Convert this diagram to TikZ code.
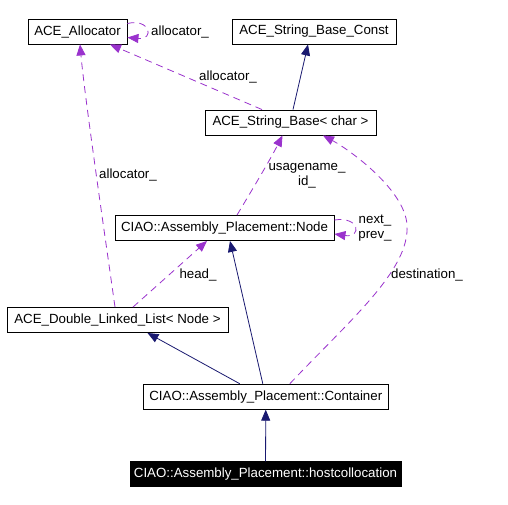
\documentclass[tikz,border=0pt]{standalone}
\usepackage{fontspec}
\setmainfont{Liberation Sans}
\usetikzlibrary{arrows.meta}
\definecolor{navyedge}{RGB}{25,25,112}
\definecolor{orchidedge}{RGB}{154,50,205}
\begin{document}
\begin{tikzpicture}[x=1pt,y=-1pt,font=\fontsize{13.3}{15}\selectfont,
cls/.style={draw=black,line width=0.9pt,minimum height=25pt,inner sep=0pt},
inh/.style={navyedge,line width=0.8pt,-{Triangle[length=11pt,width=9pt]}},
usage/.style={orchidedge,line width=0.8pt,dash pattern=on 7pt off 5pt,-{Triangle[length=11pt,width=9pt]}},
lbl/.style={inner sep=0pt,align=center}]
\useasboundingbox[fill=white] (0,0) rectangle (508,504);
% classes
\node[cls,minimum width=99pt] (alloc) at (77.5,31.5) {ACE\_Allocator};
\node[cls,minimum width=164pt] (const) at (314,31.5) {ACE\_String\_Base\_Const};
\node[cls,minimum width=171pt] (sb) at (290.5,122.5) {ACE\_String\_Base< char >};
\node[cls,minimum width=219pt] (node) at (224.5,228) {CIAO::Assembly\_Placement::Node};
\node[cls,minimum width=221pt] (dll) at (117.5,320) {ACE\_Double\_Linked\_List< Node >};
\node[cls,minimum width=245pt] (cont) at (265.8,396.7) {CIAO::Assembly\_Placement::Container};
\node[cls,minimum width=271pt,fill=black,text=white] (host) at (265.5,474.3) {CIAO::Assembly\_Placement::hostcollocation};
% inheritance
\draw[inh] (host) -- (cont);
\draw[inh] ([xshift=-26pt]cont.north) -- ([xshift=30pt]dll.south);
\draw[inh] ([xshift=-3pt]cont.north) -- ([xshift=5.5pt]node.south);
\draw[inh] ([xshift=2.5pt]sb.north) -- ([xshift=-6pt]const.south);
% usage
\draw[usage] ([yshift=8pt]alloc.east) .. controls (150,18) and (155,40) .. ([yshift=-6pt]alloc.east);
\node[lbl] (l1) at (180,32) {allocator\_};
\draw[usage] ([xshift=-28.5pt]sb.north) -- ([xshift=32.5pt]alloc.south);
\node[lbl] (l2) at (228,77) {allocator\_};
\draw[usage] ([xshift=-2.5pt]dll.north) .. controls (107,250) and (85,100) .. ([xshift=2.5pt]alloc.south);
\node[lbl] (l3) at (128,175) {allocator\_};
\draw[usage] ([xshift=15.5pt]dll.north) -- ([xshift=-17.5pt]node.south);
\node[lbl] (l4) at (198,275) {head\_};
\draw[usage] ([xshift=12.5pt]node.north) .. controls (252,190) and (270,160) .. ([xshift=-8pt]sb.south);
\node[lbl] (l5) at (307,175.5) {usagename\_\\id\_};
\draw[usage] ([yshift=8pt]node.east) .. controls (360,216) and (362,238) .. ([yshift=-6pt]node.east);
\node[lbl] (l6) at (375,228.5) {next\_\\prev\_};
\draw[usage] ([xshift=24pt]cont.north) .. controls (350,320) and (410,270) .. (407,225)
.. controls (405,190) and (350,150) .. ([xshift=32.5pt]sb.south);
\node[lbl] (l7) at (427,275) {destination\_};
\end{tikzpicture}
\end{document}
